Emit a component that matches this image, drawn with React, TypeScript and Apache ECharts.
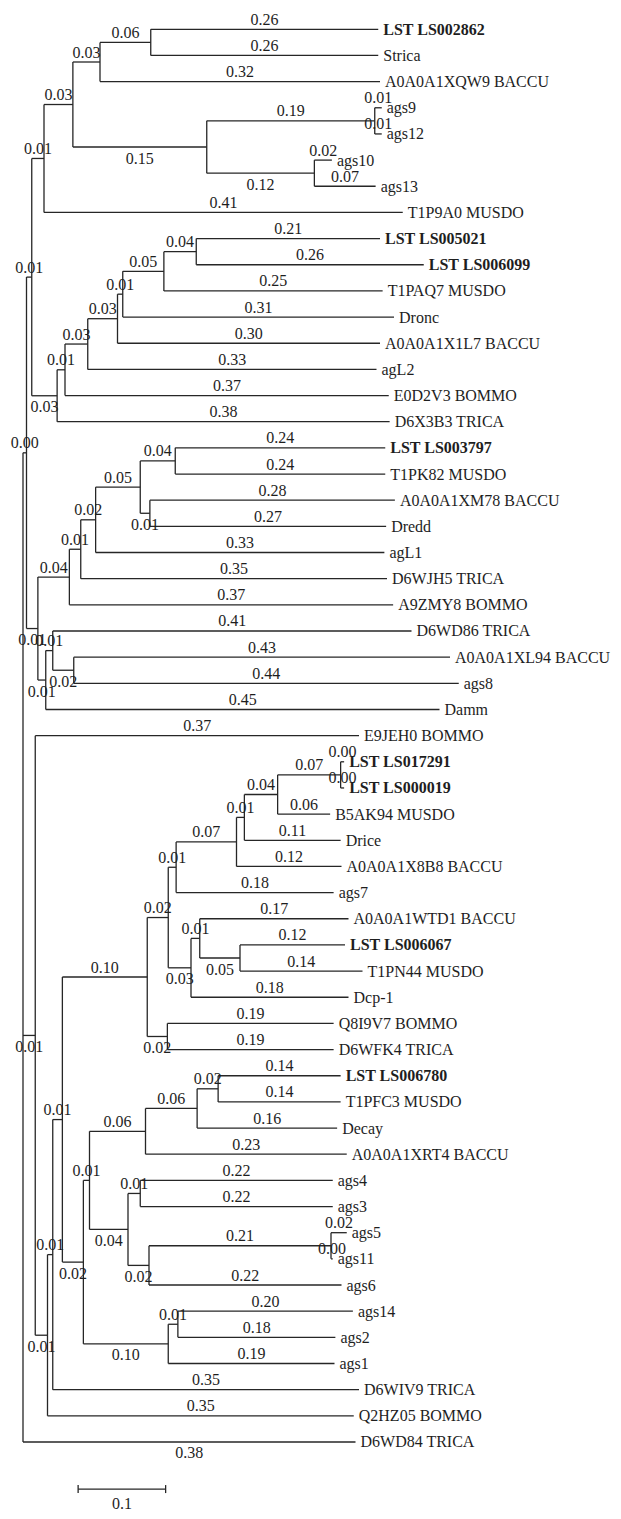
import React, { useEffect, useRef } from "react";
import * as echarts from "echarts";

// Tree topology with branch lengths (Newick).
const treeNewick = `(
 (
  (
   (
    (
     (
      (LST LS002862:0.26,Strica:0.26):0.058,
      A0A0A1XQW9 BACCU:0.32
     ):0.031,
     (
      (ags9:0.008,ags12:0.008):0.192,
      (ags10:0.02,ags13:0.07):0.123
     ):0.153
    ):0.033,
    T1P9A0 MUSDO:0.41
   ):0.014,
   (
    (
     (
      (
       (
        (
         (LST LS005021:0.21,LST LS006099:0.26):0.037,
         T1PAQ7 MUSDO:0.25
        ):0.047,
        Dronc:0.31
       ):0.006,
       A0A0A1X1L7 BACCU:0.30
      ):0.034,
      agL2:0.33
     ):0.026,
     E0D2V3 BOMMO:0.37
    ):0.009,
    D6X3B3 TRICA:0.38
   ):0.029
  ):0.006,
  (
   (
    (
     (
      (
       (LST LS003797:0.24,T1PK82 MUSDO:0.24):0.04,
       (A0A0A1XM78 BACCU:0.28,Dredd:0.27):0.011
      ):0.051,
      agL1:0.33
     ):0.017,
     D6WJH5 TRICA:0.35
    ):0.013,
    A9ZMY8 BOMMO:0.37
   ):0.036,
   (
    (
     D6WD86 TRICA:0.41,
     (A0A0A1XL94 BACCU:0.43,ags8:0.44):0.024
    ):0.008,
    Damm:0.45
   ):0.009
  ):0.013
 ):0.004,
 (
  E9JEH0 BOMMO:0.37,
  (
   (
    (
     (
      (
       (
        (
         (
          (
           (LST LS017291:0.004,LST LS000019:0.004):0.072,
           B5AK94 MUSDO:0.06
          ):0.038,
          Drice:0.11
         ):0.009,
         A0A0A1X8B8 BACCU:0.12
        ):0.069,
        ags7:0.18
       ):0.009,
       (
        (
         A0A0A1WTD1 BACCU:0.17,
         (LST LS006067:0.12,T1PN44 MUSDO:0.14):0.046
        ):0.01,
        Dcp-1:0.18
       ):0.026
      ):0.024,
      (Q8I9V7 BOMMO:0.19,D6WFK4 TRICA:0.19):0.023
     ):0.097,
     (
      (
       (
        (
         (LST LS006780:0.14,T1PFC3 MUSDO:0.14):0.024,
         Decay:0.16
        ):0.059,
        A0A0A1XRT4 BACCU:0.23
       ):0.064,
       (
        (ags4:0.22,ags3:0.22):0.014,
        (
         (ags5:0.018,ags11:0.002):0.208,
         ags6:0.22
        ):0.024
       ):0.044
      ):0.007,
      (
       (ags14:0.20,ags2:0.18):0.011,
       ags1:0.19
      ):0.097
     ):0.024
    ):0.011,
    D6WIV9 TRICA:0.35
   ):0.006,
   Q2HZ05 BOMMO:0.35
  ):0.014
 ):0.014,
 D6WD84 TRICA:0.38
);`;

const boldLeaves = [
  "LST LS002862",
  "LST LS005021",
  "LST LS006099",
  "LST LS003797",
  "LST LS017291",
  "LST LS000019",
  "LST LS006067",
  "LST LS006780",
];

const scaleBarStart = 0.063;
const scaleBarLength = 0.1;
const scaleBarRow = 55.8;
const scaleBarLabel = "0.1";

type TNode = {
  name: string;
  len: number;
  children: TNode[];
  x: number;
  y: number;
};

function parseNewick(src: string): TNode {
  const s = src.replace(/\n\s*/g, "");
  let i = 0;
  const parseNode = (): TNode => {
    const node: TNode = { name: "", len: 0, children: [], x: 0, y: 0 };
    if (s[i] === "(") {
      i++;
      node.children.push(parseNode());
      while (s[i] === ",") {
        i++;
        node.children.push(parseNode());
      }
      i++;
    }
    let name = "";
    while (i < s.length && !",():;".includes(s[i])) name += s[i++];
    node.name = name.trim();
    if (s[i] === ":") {
      i++;
      let num = "";
      while (i < s.length && !",();".includes(s[i])) num += s[i++];
      node.len = parseFloat(num);
    }
    return node;
  };
  return parseNode();
}

const FONT = '"Liberation Serif", "DejaVu Serif", serif';

export default function App() {
  const ref = useRef<HTMLDivElement>(null);
  useEffect(() => {
    if (!ref.current) return;
    const chart = echarts.init(ref.current, undefined, { renderer: "svg" });

    const root = parseNewick(treeNewick);
    let leafIdx = 0;
    const layout = (n: TNode, x: number) => {
      n.x = x;
      if (n.children.length === 0) {
        n.y = leafIdx++;
      } else {
        n.children.forEach((c) => layout(c, x + c.len));
        n.y = (n.children[0].y + n.children[n.children.length - 1].y) / 2;
      }
    };
    layout(root, 0);

    const segs: number[][] = [];
    const branchLabels: { v: number[]; text: string; below: boolean }[] = [];
    const leafLabels: { v: number[]; text: string; bold: boolean }[] = [];

    const walk = (n: TNode, parent: TNode | null, idx: number) => {
      if (parent) {
        segs.push([parent.x, n.y, n.x, n.y]);
        const internal = n.children.length > 0;
        const below = idx > 0 && (internal || parent === root);
        branchLabels.push({
          v: [(parent.x + n.x) / 2, n.y],
          text: n.len.toFixed(2),
          below,
        });
      }
      if (n.children.length) {
        const f = n.children[0];
        const l = n.children[n.children.length - 1];
        segs.push([n.x, f.y, n.x, l.y]);
        n.children.forEach((c, k) => walk(c, n, k));
      } else {
        leafLabels.push({
          v: [n.x, n.y],
          text: n.name,
          bold: boldLeaves.includes(n.name),
        });
      }
    };
    walk(root, null, 0);

    const stroke = "#262626";
    const textColor = "#1e1e1e";

    chart.setOption({
      animation: false,
      backgroundColor: "#ffffff",
      grid: { left: 23, right: 3, top: 29.3, bottom: 24.7 },
      xAxis: { type: "value", min: 0, max: 0.68, show: false },
      yAxis: { type: "value", min: 0, max: 56, inverse: true, show: false },
      series: [
        {
          type: "custom",
          coordinateSystem: "cartesian2d",
          silent: true,
          data: segs,
          encode: { x: [0, 2], y: [1, 3] },
          renderItem: (params: any, api: any) => {
            const p1 = api.coord([api.value(0), api.value(1)]);
            const p2 = api.coord([api.value(2), api.value(3)]);
            return {
              type: "line",
              shape: { x1: p1[0], y1: p1[1], x2: p2[0], y2: p2[1] },
              style: { stroke, lineWidth: 1.3 },
            };
          },
        },
        {
          type: "custom",
          coordinateSystem: "cartesian2d",
          silent: true,
          data: branchLabels.map((b) => b.v),
          encode: { x: 0, y: 1 },
          renderItem: (params: any, api: any) => {
            const b = branchLabels[params.dataIndex];
            const p = api.coord([api.value(0), api.value(1)]);
            return {
              type: "text",
              x: p[0],
              y: p[1] + (b.below ? 11 : -10),
              style: {
                text: b.text,
                fill: textColor,
                fontSize: 16,
                fontFamily: FONT,
                align: "center",
                verticalAlign: "middle",
              },
            };
          },
        },
        {
          type: "custom",
          coordinateSystem: "cartesian2d",
          silent: true,
          data: leafLabels.map((b) => b.v),
          encode: { x: 0, y: 1 },
          renderItem: (params: any, api: any) => {
            const b = leafLabels[params.dataIndex];
            const p = api.coord([api.value(0), api.value(1)]);
            return {
              type: "text",
              x: p[0] + 5,
              y: p[1],
              style: {
                text: b.text,
                fill: textColor,
                fontSize: 16,
                fontWeight: b.bold ? "bold" : "normal",
                fontFamily: FONT,
                align: "left",
                verticalAlign: "middle",
              },
            };
          },
        },
        {
          type: "custom",
          coordinateSystem: "cartesian2d",
          silent: true,
          data: [[scaleBarStart, scaleBarRow, scaleBarStart + scaleBarLength]],
          encode: { x: [0, 2], y: 1 },
          renderItem: (params: any, api: any) => {
            const a = api.coord([api.value(0), api.value(1)]);
            const b = api.coord([api.value(2), api.value(1)]);
            const st = { stroke, lineWidth: 1.3 };
            return {
              type: "group",
              children: [
                { type: "line", shape: { x1: a[0], y1: a[1], x2: b[0], y2: b[1] }, style: st },
                { type: "line", shape: { x1: a[0], y1: a[1] - 4, x2: a[0], y2: a[1] + 4 }, style: st },
                { type: "line", shape: { x1: b[0], y1: b[1] - 4, x2: b[0], y2: b[1] + 4 }, style: st },
                {
                  type: "text",
                  x: (a[0] + b[0]) / 2,
                  y: a[1] + 14,
                  style: {
                    text: scaleBarLabel,
                    fill: textColor,
                    fontSize: 16,
                    fontFamily: FONT,
                    align: "center",
                    verticalAlign: "middle",
                  },
                },
              ],
            };
          },
        },
      ],
    });
    return () => chart.dispose();
  }, []);
  return (
    <div
      ref={ref}
      style={{ position: "absolute", left: 0, top: 0, width: 621, height: 1519 }}
    />
  );
}
